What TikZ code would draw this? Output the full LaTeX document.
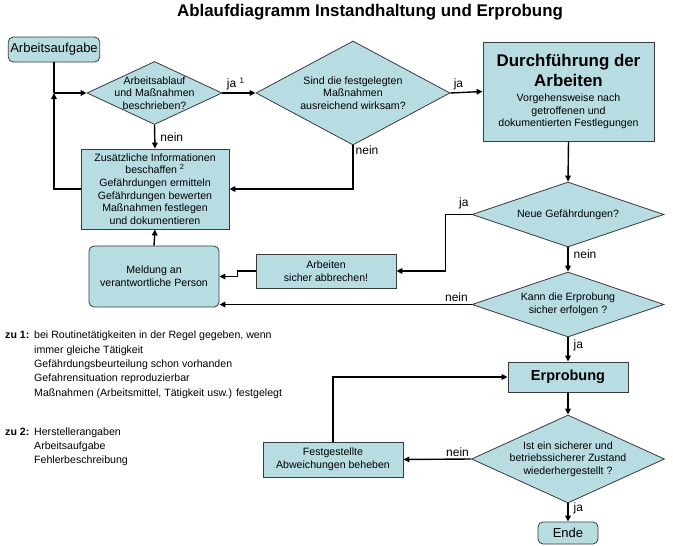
\documentclass[tikz,border=0pt]{standalone}
\usepackage{fontspec}
\setmainfont{Liberation Sans}
\usetikzlibrary{shapes.geometric,arrows.meta}
\definecolor{boxfill}{HTML}{B7DDE3}
\definecolor{boxdraw}{HTML}{3A3A3A}

\begin{document}
\begin{tikzpicture}[
    x=1pt, y=-1pt,
    font=\fontsize{10.6}{12.6}\selectfont,
    box/.style={
        rectangle, draw=boxdraw, fill=boxfill, align=center,
        line width=0.8pt, inner sep=2pt
    },
    roundbox/.style={box, rounded corners=5pt},
    decision/.style 2 args={
        diamond, draw=boxdraw, fill=boxfill, line width=0.8pt,
        minimum width=#1, minimum height=#2, inner sep=0pt
    },
    flow/.style={-{Triangle[length=6pt,width=5.5pt]}, line width=1.4pt},
    plain/.style={line width=1.4pt},
    answer/.style={font=\fontsize{12}{14}\selectfont, inner sep=2pt}
]
\useasboundingbox (0,0) rectangle (673,546);

\node[font=\fontsize{16.9}{20}\bfseries\selectfont] (title) at (370,12)
    {Ablaufdiagramm Instandhaltung und Erprobung};

% linke Spalte
\node[roundbox, minimum width=88, minimum height=25, font=\fontsize{13}{15}\selectfont]
    (aufgabe) at (54,49.5) {Arbeitsaufgabe};
\node[decision={135}{63}, label={[align=center]center:{Arbeitsablauf\\und Maßnahmen\\beschrieben?}}]
    (beschrieben) at (154.5,93) {};
\node[box, minimum width=148, minimum height=80] (info) at (155,189)
    {Zusätzliche Informationen\\beschaffen \textsuperscript{2}\\Gefährdungen ermitteln\\Gefährdungen bewerten\\Maßnahmen festlegen\\und dokumentieren};
\node[roundbox, minimum width=130, minimum height=61] (meldung) at (154,276.5)
    {Meldung an\\verantwortliche Person};

% obere Reihe
\node[decision={194}{104}, label={[align=center]center:{Sind die festgelegten\\Maßnahmen\\ausreichend wirksam?}}]
    (wirksam) at (353,93) {};
\node[box, minimum width=171, minimum height=99] (durchf) at (568.5,91.5)
    {{\fontsize{16.9}{20}\bfseries\selectfont Durchführung der}\\[3pt]
     {\fontsize{16.9}{20}\bfseries\selectfont Arbeiten}\\[3pt]
     Vorgehensweise nach\\getroffenen und\\dokumentierten Festlegungen};

% rechte Spalte
\node[decision={192}{65}, label={[align=center]center:{Neue Gefährdungen?}}]
    (neu) at (568,214.5) {};
\node[box, minimum width=140, minimum height=34] (abbruch) at (326,271)
    {Arbeiten\\sicher abbrechen!};
\node[decision={192}{65}, label={[align=center]center:{Kann die Erprobung\\sicher erfolgen ?}}]
    (sicher) at (568,304.5) {};
\node[box, minimum width=120, minimum height=30, font=\fontsize{14.5}{17}\bfseries\selectfont]
    (erprobung) at (568,377) {Erprobung};
\node[decision={193}{88}, label={[align=center]center:{Ist ein sicherer und\\betriebssicherer Zustand\\wiederhergestellt ?}}]
    (zustand) at (568,459) {};
\node[box, minimum width=140, minimum height=35] (beheben) at (333,459.5)
    {Festgestellte\\Abweichungen beheben};
\node[roundbox, minimum width=60, minimum height=22, font=\fontsize{13}{15}\selectfont]
    (ende) at (568,533) {Ende};

% Fussnoten
\node[anchor=north west, align=left, inner sep=0pt, font=\fontsize{10.6}{14.3}\selectfont]
    (note1) at (5,331)
    {\makebox[29pt][l]{\textbf{zu 1:}}bei Routinetätigkeiten in der Regel gegeben, wenn\\
     \hspace*{29pt}immer gleiche Tätigkeit\\
     \hspace*{29pt}Gefährdungsbeurteilung schon vorhanden\\
     \hspace*{29pt}Gefahrensituation reproduzierbar\\
     \hspace*{29pt}Maßnahmen (Arbeitsmittel, Tätigkeit usw.) festgelegt};
\node[anchor=north west, align=left, inner sep=0pt, font=\fontsize{10.6}{13.8}\selectfont]
    (note2) at (5,428)
    {\makebox[29pt][l]{\textbf{zu 2:}}Herstellerangaben\\
     \hspace*{29pt}Arbeitsaufgabe\\
     \hspace*{29pt}Fehlerbeschreibung};

% Verbindungen
\coordinate (knoten) at (aufgabe.south |- beschrieben.west);
\draw[plain] (aufgabe.south) -- (knoten);
\draw[flow] (knoten) -- (beschrieben.west);
\draw[flow] (info.west) -| (knoten);
\draw[flow] (beschrieben.east) -- node[answer, above, pos=0.4] {ja \textsuperscript{1}} (wirksam.west);
\draw[flow] (beschrieben.south) -- node[answer, right, xshift=3pt] {nein} (info.north);
\draw[flow] (wirksam.east) -- node[answer, above, pos=0.25] {ja} (durchf.west);
\draw[flow] (wirksam.south) |- node[answer, right, pos=0.05] {nein} (info.east);
\draw[flow] (meldung.north) -- (info.south);
\draw[flow] (durchf.south) -- (neu.north);
\draw[flow] (neu.west) -- node[answer, above, pos=0.3, yshift=3pt] {ja} ++(-26,0) |- (abbruch.east);
\draw[flow] (abbruch.west) -- ++(-18,0) |- (meldung.east);
\draw[flow] (neu.south) -- node[answer, right, xshift=3pt, pos=0.3] {nein} (sicher.north);
\draw[flow] (sicher.west) -- node[answer, above, pos=0.06] {nein} (sicher.west -| meldung.east);
\draw[flow] (sicher.south) -- node[answer, right, xshift=3pt, pos=0.35] {ja} (erprobung.north);
\draw[flow] (erprobung.south) -- (zustand.north);
\draw[flow] (zustand.west) -- node[answer, above, pos=0.2] {nein} (beheben.east);
\draw[flow] (beheben.north) |- (erprobung.west);
\draw[flow] (zustand.south) -- node[answer, right, xshift=3pt, pos=0.3] {ja} (ende.north);

\end{tikzpicture}
\end{document}
